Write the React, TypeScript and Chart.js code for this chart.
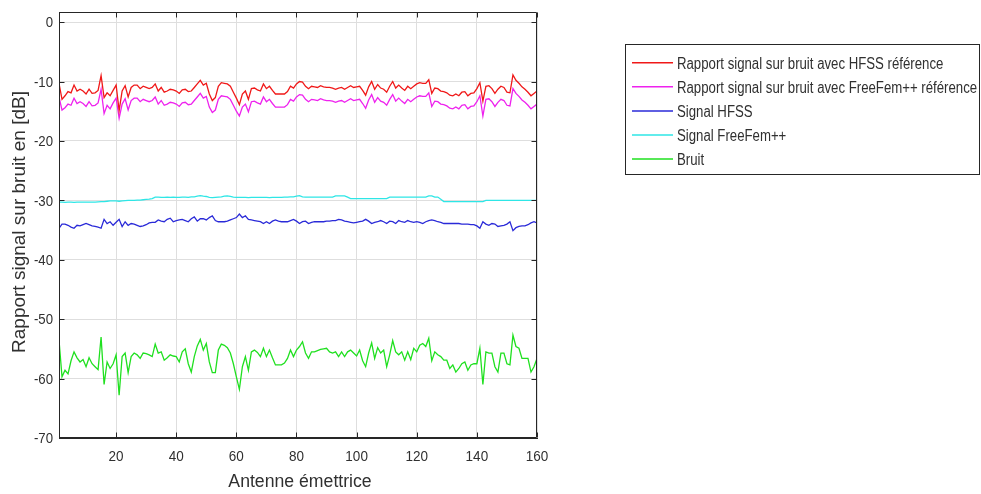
import React, { useEffect, useRef } from 'react';
import { Chart, registerables } from 'chart.js';
Chart.register(...registerables);

// Antenna index (x categories)
const antennes: number[] = Array.from({ length: 160 }, (_, i) => i + 1);

const snrHFSS: number[] = [
  -10.3, -13, -12.4, -11.7, -11.9, -10.6, -11.6, -11.3, -11.6, -12.1,
  -11.3, -12, -11.9, -11.5, -9, -12.7, -11.9, -12.4, -11.5, -10.6,
  -14.9, -11.6, -10.7, -12.6, -11, -10.6, -10.6, -11.2, -10.8, -11,
  -11.2, -11, -10.4, -11.6, -11, -11.8, -11.6, -11.3, -11.4, -11.6,
  -12, -11.4, -11.3, -11.7, -11.6, -11, -10.4, -9.8, -10.6, -10.3,
  -12.1, -13.2, -12.7, -10.8, -10.2, -10.3, -10.4, -10.8, -11.8, -12.8,
  -13.9, -12.1, -11.6, -13, -11.2, -11.1, -11.4, -11.6, -10.4, -11.2,
  -10.8, -11.5, -12.1, -12.1, -12.1, -12.1, -11.7, -10.8, -11.1, -10.4,
  -10, -10.1, -10.8, -11.2, -10.8, -10.9, -11, -10.7, -10.9, -11,
  -11, -11.1, -11.3, -11.1, -11, -11.3, -11, -10.7, -11, -10.9,
  -10.8, -11.5, -12.3, -10.9, -10, -11.3, -10.5, -11.1, -11.3, -11.8,
  -10.8, -10, -11.1, -10.6, -11.1, -11.5, -10.8, -11.2, -10.8, -10.4,
  -10.2, -10.3, -10.3, -9.7, -12, -11.1, -11.2, -11.6, -11.7, -11.9,
  -12.3, -12.4, -12.1, -12.4, -11.8, -11.7, -12.4, -12, -11.9, -11.2,
  -10.2, -13.3, -10.8, -10.7, -11.2, -12, -11.3, -10.8, -11, -11.8,
  -11.9, -8.9, -9.8, -10.3, -10.9, -11.3, -11.8, -12.4, -12, -11.6,
];

const snrFreeFem: number[] = [
  -12.6, -14.8, -14.4, -13.8, -14, -12.8, -13.7, -13.4, -13.7, -14.2,
  -13.4, -14.1, -14, -13.6, -11.3, -15.4, -14, -14.6, -13.6, -12.8,
  -16.2, -13.8, -12.9, -14.8, -13.2, -12.8, -12.8, -13.4, -13, -13.2,
  -13.4, -13.2, -12.6, -13.8, -13.2, -14, -13.8, -13.5, -13.6, -13.8,
  -14.2, -13.6, -13.5, -13.9, -13.8, -13.2, -12.6, -12, -12.8, -12.5,
  -14.3, -15.2, -14.8, -13, -12.4, -12.5, -12.6, -13, -14, -15,
  -15.8, -14.3, -13.8, -15.1, -13.4, -13.3, -13.6, -13.8, -12.6, -13.4,
  -13, -13.7, -14.3, -14.3, -14.3, -14.3, -13.9, -13, -13.3, -12.6,
  -12.2, -12.3, -13, -13.4, -13, -13.1, -13.2, -12.9, -13.1, -13.2,
  -13.2, -13.3, -13.5, -13.3, -13.2, -13.5, -13.2, -12.9, -13.2, -13.1,
  -13, -13.7, -14.5, -13.1, -12.2, -13.5, -12.7, -13.3, -13.5, -14,
  -13, -12.2, -13.3, -12.8, -13.3, -13.7, -13, -13.4, -13, -12.6,
  -12.4, -12.5, -12.5, -11.9, -14.2, -13.3, -13.4, -13.8, -13.9, -14.1,
  -14.5, -14.6, -14.3, -14.6, -14, -13.9, -14.6, -14.2, -14.1, -13.4,
  -12.4, -15.8, -13, -12.9, -13.4, -14.2, -13.5, -13, -13.2, -14,
  -14.1, -11.2, -12, -12.5, -13.1, -13.5, -14, -14.6, -14.2, -13.8,
];

const signalHFSS: number[] = [
  -34.7, -34.0, -34.0, -34.2, -34.5, -34.7, -34.2, -34.3, -34.1, -33.9,
  -34.1, -34.3, -34.4, -34.5, -34.7, -33.2, -33.9, -33.6, -34.2, -33.7,
  -33.2, -34.4, -33.6, -34.2, -33.9, -34.0, -34.2, -34.4, -34.3, -34.1,
  -33.8, -33.7, -33.7, -33.3, -33.5, -33.6, -33.2, -33.0, -33.6, -33.4,
  -33.3, -33.2, -33.4, -33.6, -33.1, -32.8, -33.5, -33.1, -33.1, -33.3,
  -32.9, -32.6, -33.4, -33.6, -33.6, -33.6, -33.5, -33.3, -33.1, -32.9,
  -32.3, -32.9, -32.6, -33.2, -33.3, -33.4, -33.5, -33.6, -33.9, -33.6,
  -33.9, -33.5, -33.3, -33.5, -33.6, -33.6, -33.6, -33.4, -33.2, -33.5,
  -33.9, -33.6, -33.5, -33.9, -33.7, -33.6, -33.6, -33.6, -33.6, -33.5,
  -33.5, -33.4, -33.4, -33.2, -33.3, -33.5, -33.6, -33.7, -33.8, -33.7,
  -33.6, -33.5, -33.2, -33.5, -33.9, -33.7, -33.6, -33.4, -33.6, -33.9,
  -33.5, -33.6, -33.9, -33.4, -33.6, -33.7, -33.4, -33.6, -33.7, -33.6,
  -33.7, -33.9, -33.6, -33.4, -33.3, -33.4, -33.6, -33.7, -33.9, -33.9,
  -33.9, -33.9, -33.9, -33.9, -34.0, -34.0, -34.0, -34.1, -34.1, -34.3,
  -34.7, -33.6, -34.0, -34.2, -33.9, -34.0, -34.4, -34.3, -34.2, -34.0,
  -33.6, -35.1, -34.6, -34.4, -34.3, -34.3, -34.1, -33.8, -33.6, -33.8,
];

const signalFreeFem: number[] = [
  -30.3, -30.3, -30.35, -30.3, -30.3, -30.35, -30.3, -30.3, -30.3, -30.3,
  -30.3, -30.3, -30.3, -30.25, -30.2, -30.2, -30.15, -30.1, -30.1, -30.1,
  -30.15, -30.1, -30.05, -30.0, -30.0, -30.0, -29.95, -29.95, -29.9, -29.85,
  -29.8, -29.7, -29.45, -29.45, -29.5, -29.5, -29.45, -29.5, -29.45, -29.5,
  -29.5, -29.45, -29.45, -29.5, -29.4, -29.4, -29.3, -29.2, -29.3, -29.35,
  -29.5, -29.55, -29.5, -29.45, -29.4, -29.3, -29.25, -29.35, -29.45, -29.5,
  -29.5, -29.5, -29.5, -29.55, -29.5, -29.5, -29.5, -29.5, -29.5, -29.5,
  -29.55, -29.5, -29.5, -29.5, -29.5, -29.45, -29.45, -29.4, -29.4, -29.3,
  -29.2, -29.4, -29.45, -29.45, -29.45, -29.45, -29.45, -29.45, -29.45, -29.45,
  -29.45, -29.45, -29.25, -29.25, -29.25, -29.25, -29.45, -29.7, -29.7, -29.7,
  -29.7, -29.7, -29.7, -29.7, -29.7, -29.7, -29.7, -29.7, -29.7, -29.7,
  -29.45, -29.45, -29.45, -29.45, -29.45, -29.45, -29.45, -29.45, -29.45, -29.45,
  -29.45, -29.45, -29.45, -29.25, -29.25, -29.45, -29.45, -29.8, -30.2, -30.2,
  -30.2, -30.2, -30.2, -30.2, -30.2, -30.2, -30.2, -30.2, -30.2, -30.2,
  -30.2, -30.2, -30.0, -30.0, -30.0, -30.0, -30.0, -30.0, -30.0, -30.0,
  -30.0, -30.0, -30.0, -30.0, -30.0, -30.0, -30.0, -30.0, -30.0, -30.0,
];

const bruit: number[] = [
  -53.5, -59.7, -58.6, -59.2, -57, -55.5, -56.5, -57.2, -56.8, -58,
  -56.5, -57.5, -58, -58.5, -53, -61, -57.2, -58.3, -57.5, -56,
  -62.8, -56.3, -55.7, -59, -56.3, -55.7, -56, -56.6, -55.7, -55.8,
  -56, -56.3, -54.2, -55.7, -55.5, -56.9, -56.5, -56, -56.2, -56.3,
  -57.2, -55.5, -55, -57.5, -58.9, -56.3, -54.5, -53.4, -55.2, -54.1,
  -57.2, -59, -59, -55.2, -54.2, -54.4, -54.8, -55.7, -57.5, -59.7,
  -61.8, -58, -56.3, -58.6, -55.5, -55.2, -55.6, -56.3, -54.9, -56.3,
  -55.2, -56.5, -57.7, -57.7, -57.7, -57.4, -56.6, -55.2, -56.3, -55.2,
  -54.6, -53.8, -55.7, -56.6, -55.5, -55.5, -55.3, -55.1, -55, -54.9,
  -55.5, -55.7, -55.5, -56.3, -55.5, -56.3, -55.5, -55.2, -55.7, -56.2,
  -55.2, -57, -58, -55.7, -54, -56.6, -54.8, -55.7, -55.2, -58,
  -56, -53.6, -55.5, -56, -55.5, -56.9, -55.5, -56.8, -54.9, -55.5,
  -54.4, -54.1, -54.6, -53.2, -57, -55.5, -56, -56.3, -56.9, -56.9,
  -58.3, -57.7, -58.9, -58.3, -57.5, -57.2, -58.6, -57.7, -57.5, -57.5,
  -54.9, -61, -55.5, -55.7, -55.7, -58, -58.9, -55.7, -55.7, -57.5,
  -57.7, -52.7, -54.6, -54.9, -56.6, -56.6, -56.6, -58.9, -58, -56.6,
];

const yTicks: number[] = [0, -10, -20, -30, -40, -50, -60, -70];
const xTicks: number[] = [20, 40, 60, 80, 100, 120, 140, 160];

const seriesLabels: string[] = [
  'Rapport signal sur bruit avec HFSS référence',
  'Rapport signal sur bruit avec FreeFem++ référence',
  'Signal HFSS',
  'Signal FreeFem++',
  'Bruit',
];
const seriesColors: string[] = ['#f01818', '#ee22ee', '#2a2ad8', '#2ee6e6', '#1fe01f'];
const xTitle = 'Antenne émettrice';
const yTitle = 'Rapport signal sur bruit en [dB]';

const FONT = "'Liberation Sans', Arial, Helvetica, sans-serif";
const TEXT = '#303030';
const AXIS = '#262626';

function drawText(
  ctx: CanvasRenderingContext2D, s: string, x: number, y: number,
  size: number, align: CanvasTextAlign, sx: number, rot = 0,
) {
  ctx.save();
  ctx.translate(x, y);
  if (rot) ctx.rotate(rot);
  ctx.scale(rot ? 1 : sx, rot ? sx : 1);
  ctx.font = `${size}px ${FONT}`;
  ctx.fillStyle = TEXT;
  ctx.textAlign = align;
  ctx.textBaseline = 'alphabetic';
  ctx.fillText(s, 0, 0);
  ctx.restore();
}

const decorPlugin = {
  id: 'matlabDecor',
  afterDraw(chart: any) {
    const { ctx, chartArea: a, scales } = chart;
    const xs = scales.x;
    const ys = scales.y;
    const L = Math.round(a.left) + 0.5;
    const R = Math.round(a.right) - 0.5;
    const T = Math.round(a.top) + 0.5;
    const B = Math.round(a.bottom) - 0.5;
    ctx.save();
    ctx.strokeStyle = AXIS;
    ctx.lineWidth = 1;
    ctx.beginPath();
    ctx.moveTo(L, T); ctx.lineTo(R, T); ctx.lineTo(R, B); ctx.lineTo(L, B); ctx.closePath();
    const tl = 5;
    xTicks.forEach((v) => {
      const px = Math.round(xs.getPixelForValue(v)) + 0.5;
      ctx.moveTo(px, B); ctx.lineTo(px, B - tl);
      ctx.moveTo(px, T); ctx.lineTo(px, T + tl);
    });
    yTicks.forEach((v) => {
      const py = Math.round(ys.getPixelForValue(v)) + 0.5;
      ctx.moveTo(L, py); ctx.lineTo(L + tl, py);
      ctx.moveTo(R, py); ctx.lineTo(R - tl, py);
    });
    ctx.stroke();

    // tick labels
    yTicks.forEach((v) => {
      drawText(ctx, String(v), a.left - 6, ys.getPixelForValue(v) + 5.2, 15, 'right', 0.88);
    });
    xTicks.forEach((v) => {
      drawText(ctx, String(v), xs.getPixelForValue(v), 461, 15, 'center', 0.9);
    });
    // axis titles
    drawText(ctx, xTitle, (a.left + a.right) / 2 + 2, 486.5, 18.8, 'center', 0.94);
    drawText(ctx, yTitle, 25, 222, 19, 'center', 0.95, -Math.PI / 2);

    // legend
    const bx = 625.5, by = 44.5, bw = 354, bh = 130;
    ctx.fillStyle = '#ffffff';
    ctx.fillRect(bx, by, bw, bh);
    ctx.strokeStyle = AXIS;
    ctx.lineWidth = 1;
    ctx.strokeRect(bx, by, bw, bh);
    const rows = [62.7, 86.7, 111, 135, 159];
    seriesLabels.forEach((lab, i) => {
      ctx.strokeStyle = seriesColors[i];
      ctx.lineWidth = 1.5;
      ctx.beginPath();
      ctx.moveTo(632, rows[i]);
      ctx.lineTo(673, rows[i]);
      ctx.stroke();
      drawText(ctx, lab, 677, rows[i] + 5.8, 16, 'left', 0.825);
    });
    ctx.restore();
  },
};

export default function App() {
  const ref = useRef<HTMLCanvasElement>(null);
  useEffect(() => {
    const series = [snrHFSS, snrFreeFem, signalHFSS, signalFreeFem, bruit];
    const chart = new Chart(ref.current as HTMLCanvasElement, {
      type: 'line',
      data: {
        datasets: series.map((vals, i) => ({
          label: seriesLabels[i],
          data: antennes.map((x, j) => ({ x, y: vals[j] })),
          borderColor: seriesColors[i],
          backgroundColor: seriesColors[i],
          borderWidth: 1.3,
          pointRadius: 0,
          tension: 0,
          fill: false,
        })),
      },
      options: {
        animation: false,
        responsive: false,
        devicePixelRatio: 1,
        layout: { padding: { left: 0, right: 444, top: 12, bottom: 0 } },
        plugins: { legend: { display: false }, tooltip: { enabled: false } },
        scales: {
          x: {
            type: 'linear',
            min: 1,
            max: 160,
            afterBuildTicks: (s: any) => { s.ticks = xTicks.map((v) => ({ value: v })); },
            afterFit: (s: any) => { s.height = 56; },
            ticks: { display: false },
            grid: { color: '#dedede', drawTicks: false, lineWidth: 1 },
            border: { display: true, color: AXIS },
          },
          y: {
            type: 'linear',
            min: -70,
            max: 1.7,
            afterBuildTicks: (s: any) => { s.ticks = yTicks.map((v) => ({ value: v })); },
            afterFit: (s: any) => { s.width = 59; },
            ticks: { display: false },
            grid: { color: '#dedede', drawTicks: false, lineWidth: 1 },
            border: { display: true, color: AXIS },
          },
        },
      },
      plugins: [decorPlugin],
    } as any);
    return () => chart.destroy();
  }, []);
  return (
    <div style={{ position: 'fixed', left: 0, top: 0, width: 981, height: 494, background: '#ffffff' }}>
      <canvas ref={ref} width={981} height={494} style={{ display: 'block', width: 981, height: 494 }} />
    </div>
  );
}
